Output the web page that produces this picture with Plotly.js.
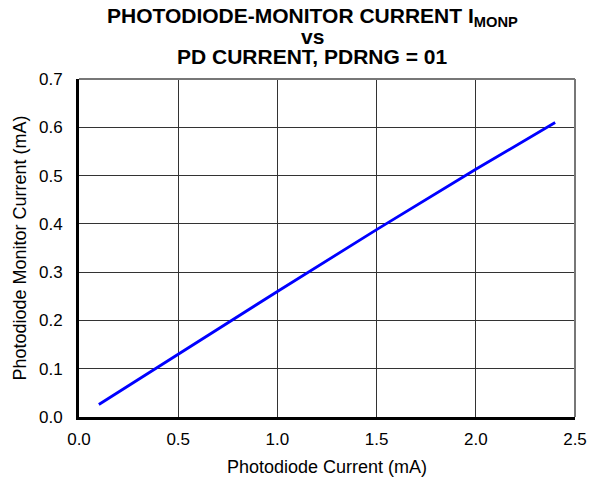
<!DOCTYPE html>
<html>
<head>
<meta charset="utf-8">
<script src="https://cdn.plot.ly/plotly-3.0.1.min.js"></script>
<style>html,body{margin:0;padding:0;background:#fff;}#chart{width:590px;height:480px;}</style>
</head>
<body>
<div id="chart"></div>
<script>
// Data
const pdCurrent = [0.1, 0.5, 1.0, 1.5, 2.0, 2.4];              // Photodiode Current (mA)
const monCurrent = [0.026, 0.130, 0.260, 0.388, 0.513, 0.610];  // Photodiode Monitor Current (mA)
const xTickVals = [0, 0.5, 1.0, 1.5, 2.0, 2.5];
const xTickText = ['0.0', '0.5', '1.0', '1.5', '2.0', '2.5'];
const yTickVals = [0, 0.1, 0.2, 0.3, 0.4, 0.5, 0.6, 0.7];
const yTickText = ['0.0', '0.1', '0.2', '0.3', '0.4', '0.5', '0.6', '0.7'];
const titleLines = ['PHOTODIODE-MONITOR CURRENT I<sub>MONP</sub>', 'vs', 'PD CURRENT, PDRNG = 01'];

const FONT = 'Liberation Sans, Arial, Helvetica, sans-serif';

const trace = {
  x: pdCurrent,
  y: monCurrent,
  type: 'scatter',
  mode: 'lines',
  line: {color: '#0000ff', width: 2.8},
  hoverinfo: 'skip'
};

// title lines as annotations (tight line spacing like the reference)
const titleY = [1.183, 1.127, 1.066];
const annotations = titleLines.map((t, i) => ({
  text: t, xref: 'paper', yref: 'paper', x: 0.47, y: titleY[i],
  xanchor: 'center', yanchor: 'middle', showarrow: false,
  font: {family: FONT, size: 21, color: '#000', weight: 'bold'}
}));

const layout = {
  width: 590,
  height: 480,
  margin: {l: 79, r: 15, t: 79, b: 63},
  paper_bgcolor: '#ffffff',
  plot_bgcolor: '#ffffff',
  showlegend: false,
  font: {family: FONT, color: '#000'},
  annotations: annotations,
  xaxis: {
    range: [0, 2.5],
    tickmode: 'array', tickvals: xTickVals, ticktext: xTickText,
    tickfont: {family: FONT, size: 17, color: '#000'},
    ticks: '', ticklabelstandoff: 5,
    showline: true, linecolor: '#000', linewidth: 3,
    showgrid: true, gridcolor: '#333', gridwidth: 1,
    zeroline: false,
    title: {text: 'Photodiode Current (mA)', font: {family: FONT, size: 18, color: '#000'}, standoff: 12}
  },
  yaxis: {
    range: [0, 0.7],
    tickmode: 'array', tickvals: yTickVals, ticktext: yTickText,
    tickfont: {family: FONT, size: 17, color: '#000'},
    ticks: '', ticklabelstandoff: 10,
    showline: true, linecolor: '#000', linewidth: 3,
    showgrid: true, gridcolor: '#333', gridwidth: 1,
    zeroline: false,
    title: {text: 'Photodiode Monitor Current (mA)', font: {family: FONT, size: 18, color: '#000'}, standoff: 8}
  },
  shapes: [
    {type: 'line', xref: 'paper', yref: 'paper', x0: 0, x1: 1, y0: 1, y1: 1, line: {color: '#777', width: 2}},
    {type: 'line', xref: 'paper', yref: 'paper', x0: 1, x1: 1, y0: 0, y1: 1, line: {color: '#777', width: 2}}
  ]
};

Plotly.newPlot('chart', [trace], layout, {displayModeBar: false, staticPlot: true});
</script>
</body>
</html>
